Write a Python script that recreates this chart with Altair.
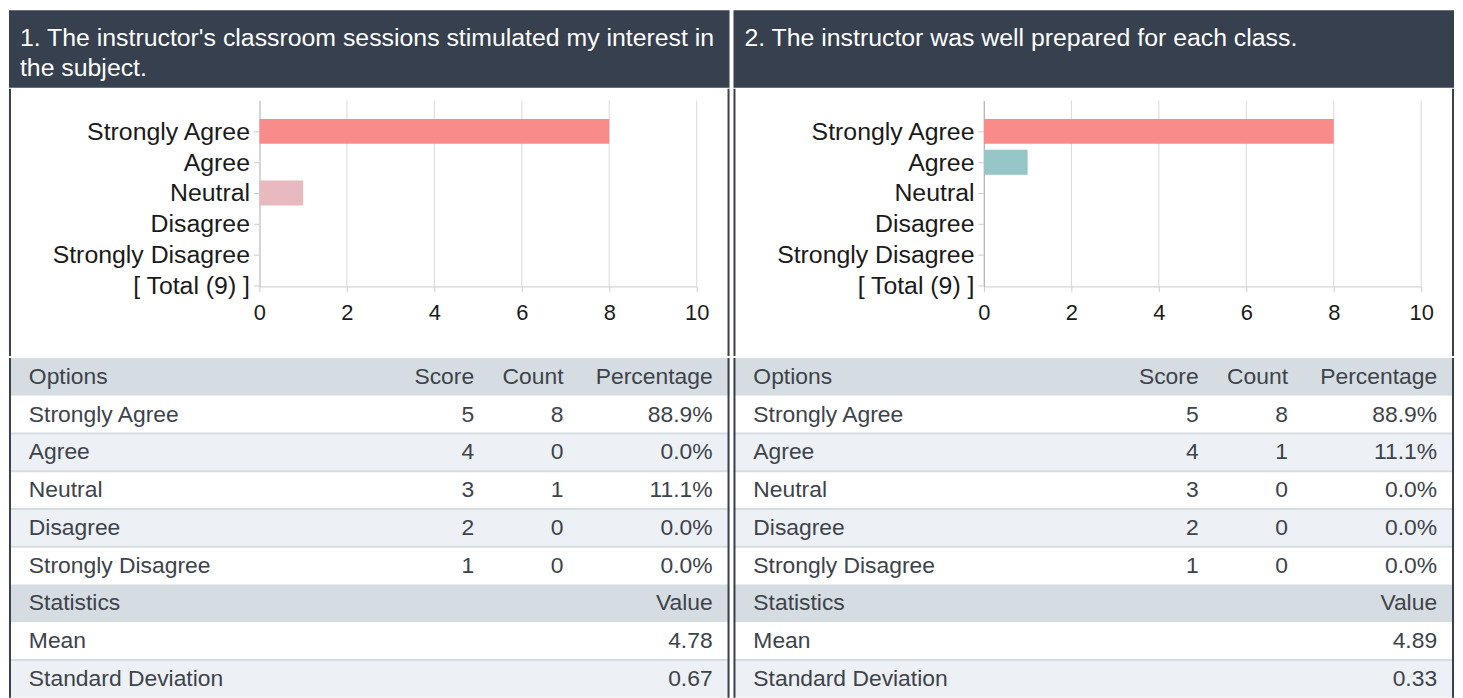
import altair as alt
import pandas as pd

FONT = "Liberation Sans, Arial, Helvetica, sans-serif"
DARK = "#36404e"
TEXT_TABLE = "#3d434b"
TEXT_CHART = "#1a1a1a"

# ---------------- data ----------------
categories = ["Strongly Agree", "Agree", "Neutral", "Disagree", "Strongly Disagree", "[ Total (9) ]"]
options = ["Strongly Agree", "Agree", "Neutral", "Disagree", "Strongly Disagree"]
bar_colors = ["#f98b8b", "#96c6c8", "#e8b9be", "#f2c98f", "#b7b3d8"]
scores = ["5", "4", "3", "2", "1"]
tick_values = [0, 2, 4, 6, 8, 10]

q1_title = ["1. The instructor's classroom sessions stimulated my interest in", "the subject."]
q1_counts = [8, 0, 1, 0, 0]
q1_pcts = ["88.9%", "0.0%", "11.1%", "0.0%", "0.0%"]
q1_stats = ["4.78", "0.67"]

q2_title = ["2. The instructor was well prepared for each class."]
q2_counts = [8, 1, 0, 0, 0]
q2_pcts = ["88.9%", "11.1%", "0.0%", "0.0%", "0.0%"]
q2_stats = ["4.89", "0.33"]

table_heads = ["Options", "Score", "Count", "Percentage"]
stat_heads = ["Statistics", "Value"]
stat_names = ["Mean", "Standard Deviation"]

# ---------------- layout ----------------
PW = 725
HEAD_H = 78
CHART_H = 269
ROW_H = 38
N_ROWS = 9
TABLE_H = ROW_H * N_ROWS

one = pd.DataFrame({"k": [0]})


def borders(h):
    left = alt.Chart(one).mark_rule(color=DARK, strokeWidth=2).encode(
        x=alt.value(1), y=alt.value(0), y2=alt.value(h))
    right = alt.Chart(one).mark_rule(color=DARK, strokeWidth=2).encode(
        x=alt.value(PW - 1), y=alt.value(0), y2=alt.value(h))
    return [left, right]


def header(lines):
    df = pd.DataFrame({"line": list(range(len(lines))), "text": lines})
    bg = alt.Chart(one).mark_rect(color=DARK).encode(
        x=alt.value(0), x2=alt.value(PW), y=alt.value(0), y2=alt.value(HEAD_H))
    txt = alt.Chart(df).mark_text(
        align="left", baseline="middle", font=FONT, fontSize=25, color="#ffffff"
    ).encode(
        x=alt.value(11),
        y=alt.Y("line:O", axis=None,
                scale=alt.Scale(type="point", domain=[0, 1], range=[28, 58], padding=0)),
        text="text:N",
    )
    return alt.layer(bg, txt).properties(width=PW, height=HEAD_H)


def bar_chart(counts):
    df = pd.DataFrame({"option": options, "count": counts})
    grid_df = pd.DataFrame({"count": tick_values})
    xscale = alt.Scale(domain=[0, 10], range=[252, 692], nice=False, zero=True)
    xaxis = alt.Axis(values=tick_values, grid=False, offset=-70, tickSize=5,
                     tickColor="#cccccc", domainColor="#cccccc", labelPadding=11,
                     labelFontSize=22, labelColor=TEXT_CHART, labelFont=FONT,
                     title=None, labelFlush=False, labelOverlap=False)
    yscale = alt.Scale(type="point", domain=categories, range=[12, 199],
                       padding=0.516, align=0.97)
    yaxis = alt.Axis(offset=-252, tickSize=6, tickColor="#cccccc",
                     domainColor="#9a9a9a", labelPadding=4, labelFontSize=25,
                     labelFont=FONT, labelColor=TEXT_CHART, title=None,
                     labelOverlap=False, labelLimit=400)
    grid = alt.Chart(grid_df).mark_rule(color="#d9d9d9", strokeWidth=1).encode(
        x=alt.X("count:Q", scale=xscale, axis=xaxis),
        y=alt.value(12), y2=alt.value(199),
    )
    bars = alt.Chart(df).mark_bar(size=25).encode(
        x=alt.X("count:Q", scale=xscale, axis=xaxis),
        y=alt.Y("option:N", scale=yscale, axis=yaxis),
        color=alt.Color("option:N", scale=alt.Scale(domain=options, range=bar_colors),
                        legend=None),
    )
    return alt.layer(grid, bars, *borders(CHART_H)).properties(width=PW, height=CHART_H)


def table(counts, pcts, stats):
    rows = list(range(N_ROWS))
    kinds = ["head", "odd", "even", "odd", "even", "odd", "head", "odd", "even"]
    yenc = alt.Y("row:O", axis=None,
                 scale=alt.Scale(domain=rows, paddingInner=0, paddingOuter=0))
    bg = alt.Chart(pd.DataFrame({"row": rows, "kind": kinds})).mark_rect().encode(
        y=yenc, x=alt.value(0), x2=alt.value(PW),
        fill=alt.Fill("kind:N", legend=None,
                      scale=alt.Scale(domain=["head", "odd", "even"],
                                      range=["#d6dde2", "#ffffff", "#edf1f5"])),
    )
    sep = alt.Chart(pd.DataFrame({"row": [2, 3, 4, 5, 8]})).mark_rule(
        color="#d6dde2", strokeWidth=2).encode(
        y=alt.Y("row:O", bandPosition=0, axis=None,
                scale=alt.Scale(domain=rows, paddingInner=0, paddingOuter=0)),
        x=alt.value(0), x2=alt.value(PW),
    )
    left_labels = [table_heads[0]] + options + [stat_heads[0]] + stat_names
    txt_kw = dict(baseline="middle", font=FONT, fontSize=23, color=TEXT_TABLE)
    col_left = alt.Chart(pd.DataFrame({"row": rows, "t": left_labels})).mark_text(
        align="left", **txt_kw).encode(y=yenc, x=alt.value(20), text="t:N")
    score_vals = [table_heads[1]] + scores
    col_score = alt.Chart(pd.DataFrame({"row": rows[:6], "t": score_vals})).mark_text(
        align="right", **txt_kw).encode(y=yenc, x=alt.value(468), text="t:N")
    count_vals = [table_heads[2]] + [str(c) for c in counts]
    col_count = alt.Chart(pd.DataFrame({"row": rows[:6], "t": count_vals})).mark_text(
        align="right", **txt_kw).encode(y=yenc, x=alt.value(558), text="t:N")
    pct_vals = [table_heads[3]] + pcts + [stat_heads[1]] + stats
    col_pct = alt.Chart(pd.DataFrame({"row": rows, "t": pct_vals})).mark_text(
        align="right", **txt_kw).encode(y=yenc, x=alt.value(708), text="t:N")
    return alt.layer(bg, sep, col_left, col_score, col_count, col_pct,
                     *borders(TABLE_H)).properties(width=PW, height=TABLE_H)


def panel(title, counts, pcts, stats):
    return alt.vconcat(header(title), bar_chart(counts), table(counts, pcts, stats),
                       spacing=0)


chart = alt.hconcat(
    panel(q1_title, q1_counts, q1_pcts, q1_stats),
    panel(q2_title, q2_counts, q2_pcts, q2_stats),
    spacing=2,
).properties(padding=0).configure_view(stroke=None)

chart.save("out.html", embed_options={"renderer": "svg", "actions": False})
